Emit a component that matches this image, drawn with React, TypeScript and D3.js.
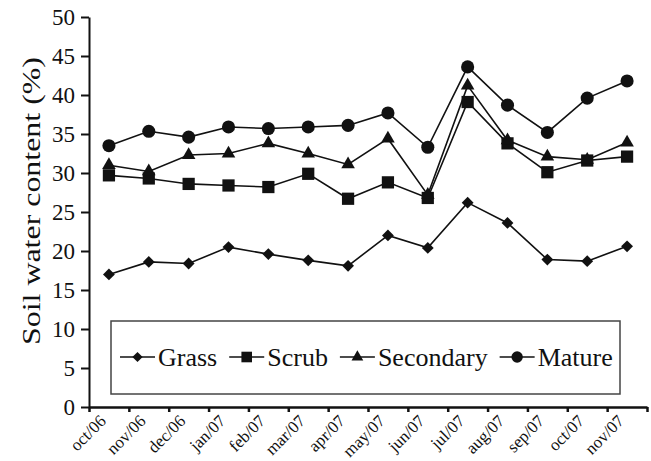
import React, { useEffect, useRef } from "react";
import * as d3 from "d3";

const months = [
  "oct/06", "nov/06", "dec/06", "jan/07", "feb/07", "mar/07", "apr/07",
  "may/07", "jun/07", "jul/07", "aug/07", "sep/07", "oct/07", "nov/07",
];
const grass = [17.0, 18.6, 18.4, 20.5, 19.6, 18.8, 18.1, 22.0, 20.4, 26.2, 23.6, 18.9, 18.7, 20.6];
const scrub = [29.7, 29.3, 28.6, 28.4, 28.2, 29.9, 26.7, 28.8, 26.8, 39.1, 33.8, 30.1, 31.6, 32.1];
const secondary = [31.0, 30.2, 32.3, 32.5, 33.8, 32.5, 31.1, 34.4, 27.2, 41.2, 34.2, 32.1, 31.7, 33.9];
const mature = [33.5, 35.35, 34.6, 35.9, 35.7, 35.9, 36.1, 37.7, 33.3, 43.6, 38.7, 35.2, 39.6, 41.8];
const yTicks = [0, 5, 10, 15, 20, 25, 30, 35, 40, 45, 50];

const FONT = "Liberation Serif, DejaVu Serif, serif";
const INK = "#111";

const App: React.FC = () => {
  const svgRef = useRef<SVGSVGElement | null>(null);
  const width = 651;
  const height = 461;

  useEffect(() => {
    const svg = d3.select(svgRef.current);
    svg.selectAll("*").remove();

    const left = 89;
    const right = 647;
    const top = 17;
    const bottom = 407;

    const x = d3.scaleBand().domain(months).range([left, right]).padding(0);
    const xEdges = d3.scaleLinear().domain([0, months.length]).range([left, right]);
    const y = d3.scaleLinear().domain([0, 50]).range([bottom, top]);

    // series with their marker shapes
    const series = [
      { name: "Grass", values: grass, type: d3.symbolSquare, size: 70, rot: 45 },
      { name: "Scrub", values: scrub, type: d3.symbolSquare, size: 150, rot: 0 },
      { name: "Secondary", values: secondary, type: d3.symbolTriangle, size: 80, rot: 0 },
      { name: "Mature", values: mature, type: d3.symbolCircle, size: 135, rot: 0 },
    ];

    // legend box
    const legendG = svg.append("g");
    legendG
      .append("rect")
      .attr("x", 111)
      .attr("y", 321)
      .attr("width", 509)
      .attr("height", 73)
      .attr("fill", "white")
      .attr("stroke", "#444")
      .attr("stroke-width", 1.5);

    let lx = 120;
    series.forEach((s) => {
      const item = legendG.append("g");
      item
        .append("line")
        .attr("x1", lx)
        .attr("x2", lx + 35)
        .attr("y1", 357)
        .attr("y2", 357)
        .attr("stroke", INK)
        .attr("stroke-width", 1.5);
      item
        .append("path")
        .attr("d", d3.symbol().type(s.type).size(s.size * 0.75)())
        .attr("transform", `translate(${lx + 17.5},357) rotate(${s.rot})`)
        .attr("fill", INK);
      const t = item
        .append("text")
        .attr("x", lx + 38)
        .attr("y", 366)
        .style("font-family", FONT)
        .style("font-size", "26px")
        .attr("fill", INK)
        .text(s.name);
      const w = (t.node() as SVGTextElement).getComputedTextLength();
      lx = lx + 38 + w + 12;
    });

    // lines and markers
    const line = d3
      .line<number>()
      .x((_, i) => (x(months[i]) as number) + x.bandwidth() / 2)
      .y((d) => y(d));

    series.forEach((s) => {
      svg
        .append("path")
        .datum(s.values)
        .attr("d", line)
        .attr("fill", "none")
        .attr("stroke", INK)
        .attr("stroke-width", 1.6);
    });

    series.forEach((s) => {
      svg
        .append("g")
        .selectAll("path")
        .data(s.values)
        .enter()
        .append("path")
        .attr("d", d3.symbol().type(s.type).size(s.size)())
        .attr(
          "transform",
          (d, i) =>
            `translate(${(x(months[i]) as number) + x.bandwidth() / 2},${y(d)}) rotate(${s.rot})`
        )
        .attr("fill", INK);
    });

    // Y axis
    const yAxis = svg
      .append("g")
      .attr("transform", `translate(${left},0)`)
      .call(
        d3
          .axisLeft(y)
          .tickValues(yTicks)
          .tickSize(8)
          .tickSizeOuter(0)
          .tickPadding(6)
      );
    yAxis.attr("font-family", null).attr("font-size", null);
    yAxis.select(".domain").attr("stroke", INK).attr("stroke-width", 2);
    yAxis.selectAll(".tick line").attr("stroke", INK).attr("stroke-width", 2);
    yAxis
      .selectAll(".tick text")
      .style("font-family", FONT)
      .style("font-size", "23px")
      .attr("fill", INK)
      .attr("dy", "0.34em");

    // X axis: ticks at category boundaries
    const xAxis = svg
      .append("g")
      .attr("transform", `translate(0,${bottom})`)
      .call(
        d3
          .axisBottom(xEdges)
          .tickValues(d3.range(months.length + 1))
          .tickSize(5)
          .tickSizeOuter(0)
          .tickFormat(() => "")
      );
    xAxis.select(".domain").attr("stroke", INK).attr("stroke-width", 2.5);
    xAxis.selectAll(".tick line").attr("stroke", INK).attr("stroke-width", 2.5);

    // X labels, rotated
    svg
      .append("g")
      .selectAll("text")
      .data(months)
      .enter()
      .append("text")
      .style("font-family", FONT)
      .style("font-size", "17px")
      .attr("fill", INK)
      .attr("text-anchor", "end")
      .attr(
        "transform",
        (d) => `translate(${(x(d) as number) + x.bandwidth() / 2 - 2},${bottom + 15}) rotate(-45)`
      )
      .text((d) => d);

    // Y title
    svg
      .append("text")
      .attr("transform", `translate(40,201) rotate(-90)`)
      .attr("text-anchor", "middle")
      .style("font-family", FONT)
      .style("font-size", "26px")
      .attr("fill", INK)
      .attr("textLength", 288)
      .attr("lengthAdjust", "spacingAndGlyphs")
      .text("Soil water content (%)");
  }, []);

  return (
    <svg
      ref={svgRef}
      width={width}
      height={height}
      style={{ position: "absolute", left: 0, top: 0, background: "white" }}
    ></svg>
  );
};

export default App;
